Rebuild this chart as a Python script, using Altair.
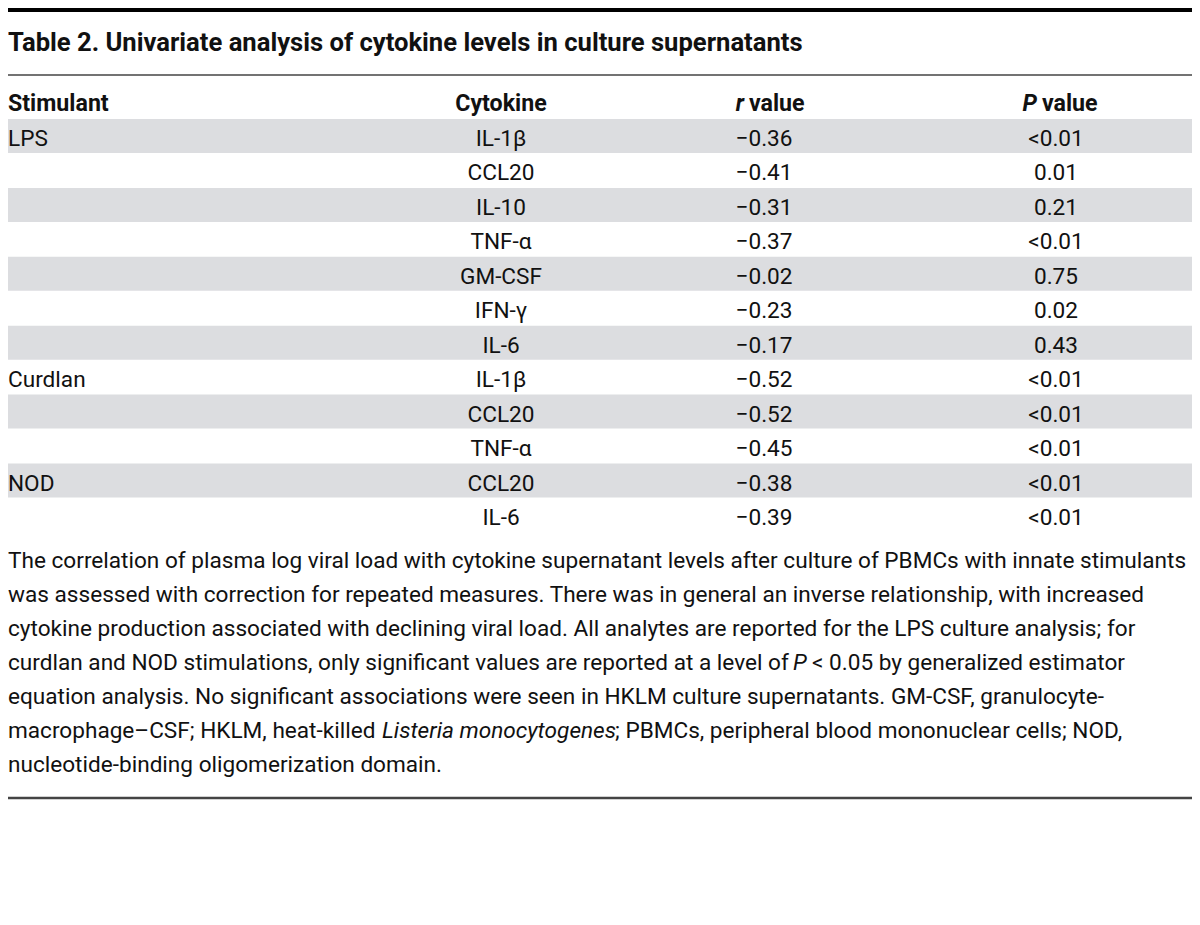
import altair as alt
import pandas as pd

# ---------------- data ----------------
title = "Table 2. Univariate analysis of cytokine levels in culture supernatants"
stimulants = ["LPS", "", "", "", "", "", "", "Curdlan", "", "", "NOD", ""]
cytokines = ["IL-1β", "CCL20", "IL-10", "TNF-α", "GM-CSF", "IFN-γ", "IL-6",
             "IL-1β", "CCL20", "TNF-α", "CCL20", "IL-6"]
r_values = ["−0.36", "−0.41", "−0.31", "−0.37", "−0.02", "−0.23", "−0.17",
            "−0.52", "−0.52", "−0.45", "−0.38", "−0.39"]
p_values = ["<0.01", "0.01", "0.21", "<0.01", "0.75", "0.02", "0.43",
            "<0.01", "<0.01", "<0.01", "<0.01", "<0.01"]
footnote = [
    [("The correlation of plasma log viral load with cytokine supernatant levels after culture of PBMCs with innate stimulants", "n")],
    [("was assessed with correction for repeated measures. There was in general an inverse relationship, with increased", "n")],
    [("cytokine production associated with declining viral load. All analytes are reported for the LPS culture analysis; for", "n")],
    [("curdlan and NOD stimulations, only significant values are reported at a level of", "n"), ("P", "i"),
     ("< 0.05 by generalized estimator", "n")],
    [("equation analysis. No significant associations were seen in HKLM culture supernatants. GM-CSF, granulocyte-", "n")],
    [("macrophage–CSF; HKLM, heat-killed", "n"), ("Listeria monocytogenes", "i"),
     ("; PBMCs, peripheral blood mononuclear cells; NOD,", "n")],
    [("nucleotide-binding oligomerization domain.", "n")],
]

# ---------------- layout (image pixel coordinates) ----------------
W, H = 1184, 909
FONT = "Roboto"
BODY = 22.6
HEAD = 23.2
LEFT = 8
COL_CYT, COL_R, COL_P = 501, 764, 1056
ROW_BASE0, ROW_PITCH = 146, 34.45
BAND_TOP0, BAND_H = 119, 34
FOOT_BASE0, FOOT_PITCH = 568, 34
seg_x = {(3, 1): 793, (3, 2): 812, (5, 1): 382, (5, 2): 615}

xs = alt.Scale(domain=[8, 8 + W])
ys = alt.Scale(domain=[8, 8 + H], reverse=True)

rows = pd.DataFrame({
    "stim": stimulants, "cyt": cytokines, "r": r_values, "p": p_values,
})
rows["i"] = range(len(rows))
rows["yb"] = ROW_BASE0 + rows["i"] * ROW_PITCH
rows["top"] = BAND_TOP0 + rows["i"] * ROW_PITCH
rows["bot"] = rows["top"] + BAND_H
rows["x0"] = 8
rows["x1"] = 8 + W
bands = rows[rows["i"] % 2 == 0]

seg_rows = []
for li, line in enumerate(footnote):
    for si, (t, st) in enumerate(line):
        x = LEFT if si == 0 else seg_x[(li, si)]
        seg_rows.append({"t": t, "st": st, "x": x, "y": FOOT_BASE0 + li * FOOT_PITCH})
segs = pd.DataFrame(seg_rows)

X = lambda f: alt.X(f, scale=xs, axis=None)
Y = lambda f: alt.Y(f, scale=ys, axis=None)

band_layer = alt.Chart(bands).mark_rect(color="#dcdde0").encode(
    x=X("x0:Q"), x2="x1:Q", y=Y("top:Q"), y2="bot:Q")

rules = pd.DataFrame({"x0": [8, 8, 8], "x1": [8 + W] * 3, "y": [10, 75, 798],
                      "w": [4, 1.5, 2.5], "c": ["#000000", "#444444", "#444444"]})
rule_layer = alt.Chart(rules).mark_rule().encode(
    x=X("x0:Q"), x2="x1:Q", y=Y("y:Q"),
    strokeWidth=alt.StrokeWidth("w:Q", scale=None, legend=None),
    color=alt.Color("c:N", scale=None, legend=None))

def txt(df, xf, yf, tf, align="left", weight="normal", style="normal", size=BODY):
    return alt.Chart(df).mark_text(
        align=align, baseline="alphabetic", font=FONT, fontSize=size,
        fontWeight=weight, fontStyle=style, color="#111111"
    ).encode(x=X(xf), y=Y(yf), text=tf)

def col(field, xpos, align):
    return alt.Chart(rows).mark_text(
        align=align, baseline="alphabetic", font=FONT, fontSize=BODY, color="#111111"
    ).encode(x=alt.value(xpos - 8), y=Y("yb:Q"), text=f"{field}:N")

title_df = pd.DataFrame({"t": [title], "x": [LEFT], "y": [51]})
hdr = pd.DataFrame({
    "t": ["Stimulant", "Cytokine", "value", "value"],
    "x": [LEFT, COL_CYT, 749, 1042],
    "a": ["left", "center", "left", "left"],
    "y": [111] * 4,
})
hdr_it = pd.DataFrame({"t": ["r", "P"], "x": [744, 1037], "y": [111, 111]})

layers = [
    band_layer,
    rule_layer,
    txt(title_df, "x:Q", "y:Q", "t:N", weight="bold", size=25.6),
    txt(hdr[hdr.a == "left"], "x:Q", "y:Q", "t:N", weight="bold", size=HEAD),
    txt(hdr[hdr.a == "center"], "x:Q", "y:Q", "t:N", align="center", weight="bold", size=HEAD),
    txt(hdr_it, "x:Q", "y:Q", "t:N", align="right", weight="bold", style="italic", size=HEAD),
    col("stim", LEFT, "left"),
    col("cyt", COL_CYT, "center"),
    col("r", COL_R, "center"),
    col("p", COL_P, "center"),
    txt(segs[segs.st == "n"], "x:Q", "y:Q", "t:N"),
    txt(segs[segs.st == "i"], "x:Q", "y:Q", "t:N", style="italic"),
]

chart = alt.layer(*layers).properties(
    width=W, height=H, padding=0,
    autosize=alt.AutoSizeParams(type="none"),
    background="white",
).configure_view(stroke=None)

chart.save("out.html", embed_options={"renderer": "svg", "actions": False})
